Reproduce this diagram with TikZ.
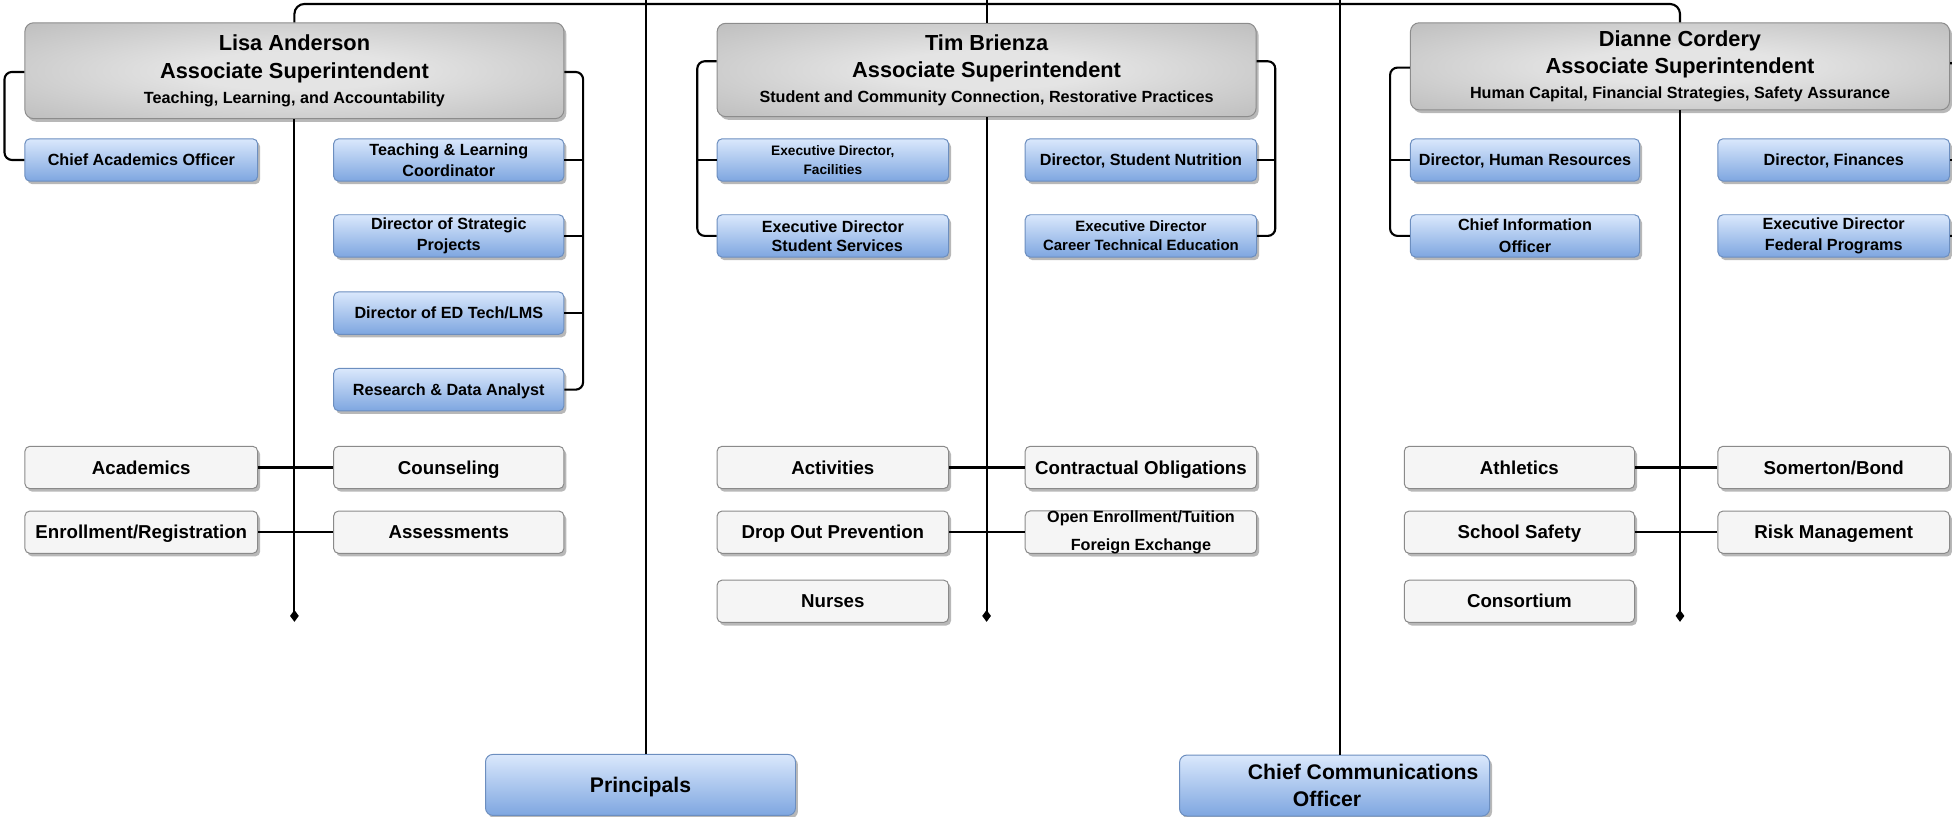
\documentclass[tikz,border=0pt]{standalone}
\usepackage{fontspec}
\setmainfont{Liberation Sans}
\usetikzlibrary{shadows,arrows.meta,calc}
\definecolor{hdrIn}{HTML}{E4E4E4}
\definecolor{hdrOut}{HTML}{A9A9A9}
\definecolor{hdrLine}{HTML}{8C8C8C}
\definecolor{blueTop}{HTML}{DAE8FC}
\definecolor{blueBot}{HTML}{7EA6E0}
\definecolor{blueLine}{HTML}{6C8EBF}
\definecolor{grayFill}{HTML}{F5F5F5}
\definecolor{grayLine}{HTML}{8A8A8A}
\pgfdeclareradialshading{hdrshade}{\pgfpointorigin}{color(0bp)=(hdrIn); color(10bp)=(hdrIn); color(50bp)=(hdrOut)}
\newcommand\hdrsub{\fontsize{13}{16}\selectfont}
\begin{document}
\begin{tikzpicture}[x=1pt,y=1pt,
  conn/.style={line width=1.7pt, black},
  boxshadow/.style={drop shadow={shadow xshift=2pt, shadow yshift=-2.5pt, opacity=0.28, fill=black}},
  hdr/.style={draw=hdrLine, line width=0.8pt, rounded corners=7pt, shading=hdrshade, boxshadow,
    minimum width=433pt, minimum height=77pt, inner sep=0pt, align=center,
    font=\bfseries\fontsize{17.5}{22}\selectfont},
  bluebase/.style={draw=blueLine, line width=0.8pt, rounded corners=4pt, top color=blueTop, bottom color=blueBot,
    boxshadow, minimum width=186pt, minimum height=34pt, inner sep=0pt, align=center,
    font=\bfseries\fontsize{13}{17}\selectfont},
  bluebox/.style={bluebase, text height=10.5pt, text depth=1.2pt},
  graybase/.style={draw=grayLine, line width=0.8pt, rounded corners=4pt, fill=grayFill,
    boxshadow, minimum width=186pt, minimum height=34pt, inner sep=0pt, align=center,
    font=\bfseries\fontsize{15}{18}\selectfont},
  graybox/.style={graybase, text height=12pt, text depth=1.3pt},
  bigblue/.style={bluebase, minimum width=249pt, minimum height=49pt, rounded corners=6pt,
    font=\bfseries\fontsize{17}{21.5}\selectfont},
  endtip/.style={-{Diamond[length=9.5pt,width=7pt]}}
]
\useasboundingbox (0,0) rectangle (1568,-656);
\clip (0,0) rectangle (1568,-656);

% coordinates for the free ends
\coordinate (topEdge) at (0,0);
\coordinate (busY) at (0,-3.2);
\coordinate (endY) at (0,-499.5);
\coordinate (pl) at (519,0);
\coordinate (cl) at (1076.5,0);

% headers
\node[hdr] (lisa) at (236.5,-56.8) {Lisa Anderson\\Associate Superintendent\\[-2pt]{\hdrsub Teaching, Learning, and Accountability}};
\node[hdr, minimum height=75pt] (tim) at (792.5,-56.2) {Tim Brienza\\Associate Superintendent\\[-2pt]{\hdrsub Student and Community Connection, Restorative Practices}};
\node[hdr, minimum height=70pt] (dianne) at (1349.5,-53.3) {Dianne Cordery\\Associate Superintendent\\[-2pt]{\hdrsub Human Capital, Financial Strategies, Safety Assurance}};

% Lisa's reports
\node[bluebox, minimum width=187pt] (cao) at (113.5,-128.5) {Chief Academics Officer};
\node[bluebase, minimum width=185pt] (tlc) at (360.5,-128.5) {Teaching \& Learning\\Coordinator};
\node[bluebase, minimum width=185pt] (dsp) at (360.5,-189.5) {Director of Strategic\\Projects};
\node[bluebox, minimum width=185pt] (dedt) at (360.5,-251.5) {Director of ED Tech/LMS};
\node[bluebox, minimum width=185pt] (rda) at (360.5,-313) {Research \& Data Analyst};

% Tim's reports
\node[bluebase, font=\bfseries\fontsize{11}{15.5}\selectfont] (edf) at (669,-128.5) {Executive Director,\\Facilities};
\node[bluebase, font=\bfseries\fontsize{13}{15.5}\selectfont] (edss) at (669,-189.5) {Executive Director\\\ \ Student Services};
\node[bluebox] (dsn) at (916.5,-128.5) {Director, Student Nutrition};
\node[bluebase, font=\bfseries\fontsize{12}{15.5}\selectfont] (edcte) at (916.5,-189.5) {Executive Director\\Career Technical Education};

% Dianne's reports
\node[bluebox, minimum width=184pt] (dhr) at (1225,-128.5) {Director, Human Resources};
\node[bluebase, minimum width=184pt, font=\bfseries\fontsize{13}{17.5}\selectfont] (cio) at (1225,-189.5) {Chief Information\\Officer};
\node[bluebox] (dfin) at (1473,-128.5) {Director, Finances};
\node[bluebase, font=\bfseries\fontsize{13}{17.5}\selectfont] (edfp) at (1473,-189.5) {Executive Director\\Federal Programs};

% Lisa's departments
\node[graybox, minimum width=187pt] (acad) at (113.5,-375.5) {Academics};
\node[graybox, minimum width=185pt] (couns) at (360.5,-375.5) {Counseling};
\node[graybox, minimum width=187pt] (enroll) at (113.5,-427.5) {Enrollment/Registration};
\node[graybox, minimum width=185pt] (assess) at (360.5,-427.5) {Assessments};

% Tim's departments
\node[graybox] (activ) at (669,-375.5) {Activities};
\node[graybox] (contr) at (916.5,-375.5) {Contractual Obligations};
\node[graybox] (dropout) at (669,-427.5) {Drop Out Prevention};
\node[graybase, font=\bfseries\fontsize{13}{22}\selectfont] (openenr) at (916.5,-427.5) {Open Enrollment/Tuition\\Foreign Exchange};
\node[graybox] (nurses) at (669,-483) {Nurses};

% Dianne's departments
\node[graybox, minimum width=185pt] (athl) at (1220.5,-375.5) {Athletics};
\node[graybox] (somer) at (1473,-375.5) {Somerton/Bond};
\node[graybox, minimum width=185pt] (safety) at (1220.5,-427.5) {School Safety};
\node[graybox] (risk) at (1473,-427.5) {Risk Management};
\node[graybox, minimum width=185pt] (consort) at (1220.5,-483) {Consortium};

% bottom
\node[bigblue, text height=13.5pt, text depth=1.3pt] (principals) at (514.5,-630.5) {Principals};
\node[bigblue] (cco) at (1072,-631) {\hspace*{46pt}Chief Communications\\Officer\hspace*{12pt}};

% top bus
\draw[conn, rounded corners=8pt] (lisa.north) -- (lisa.north |- busY) -- (dianne.north |- busY) -- (dianne.north);
\draw[conn] (tim.north |- topEdge) -- (tim.north);
\draw[conn] (pl) -- (pl |- principals.north);
\draw[conn] (cl) -- (cl |- cco.north);

% verticals with diamond ends
\draw[conn, endtip] (lisa.south) -- (lisa.south |- endY);
\draw[conn, endtip] (tim.south) -- (tim.south |- endY);
\draw[conn, endtip] (dianne.south) -- (dianne.south |- endY);

% Lisa brackets
\draw[conn, rounded corners=6pt] ([yshift=-1pt]lisa.west) -- ++(-16,0) |- (cao.west);
\draw[conn, rounded corners=6pt] ([yshift=-1pt]lisa.east) -- ++(15,0) |- (rda.east);
\draw[conn] (tlc.east) -- ++(15,0);
\draw[conn] (dsp.east) -- ++(15,0);
\draw[conn] (dedt.east) -- ++(15,0);

% Tim brackets
\draw[conn, rounded corners=6pt] ([yshift=7pt]tim.west) -- ++(-15.5,0) |- (edss.west);
\draw[conn] (edf.west) -- ++(-15.5,0);
\draw[conn, rounded corners=6pt] ([yshift=7pt]tim.east) -- ++(15,0) |- (edcte.east);
\draw[conn] (dsn.east) -- ++(15,0);

% Dianne brackets
\draw[conn, rounded corners=6pt] ([yshift=-1pt]dianne.west) -- ++(-16,0) |- (cio.west);
\draw[conn] (dhr.west) -- ++(-16,0);
\draw[conn, rounded corners=6pt] ([yshift=2.5pt]dianne.east) -- ++(12,0) |- (edfp.east);
\draw[conn] (dfin.east) -- ++(12,0);

% department links
\draw[conn] (acad) -- (couns);
\draw[conn] (enroll) -- (assess);
\draw[conn] (activ) -- (contr);
\draw[conn] (dropout) -- (openenr);
\draw[conn] (athl) -- (somer);
\draw[conn] (safety) -- (risk);
\end{tikzpicture}
\end{document}
